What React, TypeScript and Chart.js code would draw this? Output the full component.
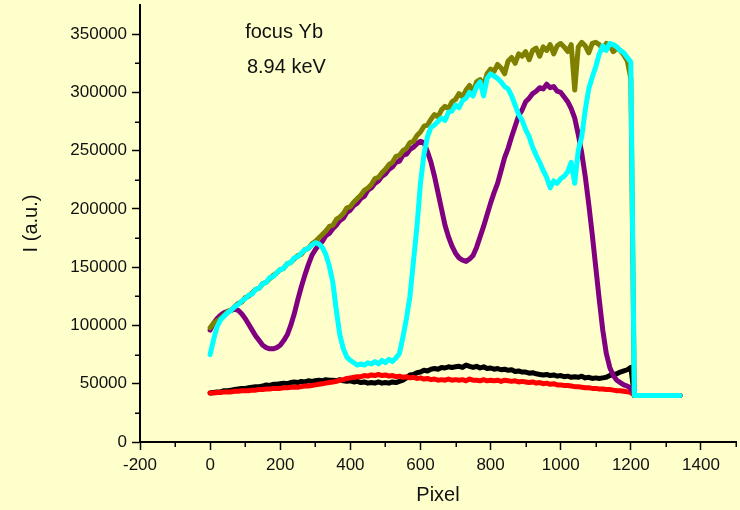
import React, { useEffect, useRef } from "react";
import { Chart, registerables } from "chart.js";

Chart.register(...registerables);

const pixels = [
  0, 10, 20, 30, 40, 50, 60, 70, 80, 90,
  100, 110, 120, 130, 140, 150, 160, 170, 180, 190,
  200, 210, 220, 230, 240, 250, 260, 270, 280, 290,
  300, 310, 320, 330, 340, 350, 360, 370, 380, 390,
  400, 410, 420, 430, 440, 450, 460, 470, 480, 490,
  500, 510, 520, 530, 540, 550, 560, 570, 580, 590,
  600, 610, 620, 630, 640, 650, 660, 670, 680, 690,
  700, 710, 720, 730, 740, 750, 760, 770, 780, 790,
  800, 810, 820, 830, 840, 850, 860, 870, 880, 890,
  900, 910, 920, 930, 940, 950, 960, 970, 980, 990,
  1000, 1010, 1020, 1030, 1040, 1050, 1060, 1070, 1080, 1090,
  1100, 1110, 1120, 1130, 1140, 1150, 1160, 1170, 1180, 1190,
  1200, 1210, 1340,
];

const olive = [
  98000, 102000, 104000, 106000, 109000, 112000, 113000, 116000, 119000, 120000,
  124000, 125000, 128000, 131000, 132000, 136000, 137000, 140000, 143000, 145000,
  148000, 149000, 153000, 154000, 157000, 160000, 161000, 165000, 166000, 170000,
  172000, 175000, 178000, 181000, 185000, 186000, 191000, 193000, 196000, 201000,
  202000, 206000, 209000, 212000, 216000, 218000, 221000, 226000, 227000, 231000,
  234000, 238000, 240000, 245000, 246000, 250000, 252000, 257000, 258000, 263000,
  266000, 271000, 272000, 277000, 281000, 279000, 285000, 288000, 286000, 292000,
  294000, 299000, 296000, 302000, 306000, 300000, 309000, 311000, 306000, 316000,
  320000, 318000, 324000, 321000, 316000, 327000, 330000, 325000, 333000, 331000,
  335000, 328000, 336000, 338000, 331000, 339000, 336000, 341000, 333000, 340000,
  342000, 339000, 335000, 341000, 302000, 339000, 343000, 340000, 334000, 342000,
  343000, 341000, 337000, 342000, 340000, 335000, 338000, 336000, 332000, 327000,
  312000, 40000, 40000,
];

const purple = [
  96000, 102000, 106000, 109000, 111000, 112000, 113000, 114000, 113000, 110000,
  106000, 101000, 96000, 91000, 87000, 83000, 81000, 80000, 80000, 81000,
  83000, 87000, 92000, 100000, 110000, 122000, 133000, 143000, 152000, 160000,
  165000, 169000, 172000, 177000, 179000, 183000, 186000, 190000, 192000, 197000,
  199000, 203000, 205000, 209000, 211000, 216000, 218000, 222000, 224000, 228000,
  230000, 234000, 236000, 240000, 241000, 246000, 247000, 251000, 253000, 256000,
  258000, 257000, 249000, 240000, 228000, 214000, 200000, 186000, 176000, 168000,
  162000, 158000, 156000, 155000, 157000, 160000, 167000, 176000, 185000, 195000,
  205000, 214000, 222000, 233000, 244000, 252000, 262000, 271000, 280000, 285000,
  292000, 295000, 299000, 301000, 304000, 303000, 307000, 304000, 305000, 301000,
  300000, 296000, 292000, 286000, 278000, 264000, 248000, 228000, 204000, 178000,
  150000, 122000, 96000, 76000, 64000, 57000, 53000, 51000, 49000, 48000,
  46000, 40000, 40000,
];

const cyan = [
  75000, 88000, 99000, 105000, 108000, 111000, 113000, 116000, 118000, 121000,
  123000, 126000, 127000, 131000, 132000, 136000, 137000, 141000, 142000, 145000,
  148000, 149000, 153000, 154000, 158000, 159000, 162000, 165000, 166000, 169000,
  171000, 170000, 167000, 161000, 151000, 137000, 113000, 92000, 80000, 73000,
  70000, 68000, 66000, 67000, 66000, 68000, 67000, 69000, 67000, 70000,
  68000, 71000, 69000, 72000, 76000, 90000, 106000, 125000, 155000, 185000,
  222000, 247000, 262000, 270000, 272000, 275000, 278000, 276000, 283000, 284000,
  289000, 287000, 293000, 295000, 300000, 297000, 305000, 309000, 297000, 312000,
  316000, 314000, 312000, 309000, 305000, 303000, 297000, 289000, 281000, 276000,
  268000, 262000, 253000, 246000, 240000, 233000, 227000, 218000, 224000, 222000,
  226000, 228000, 232000, 240000, 222000, 250000, 262000, 285000, 303000, 313000,
  322000, 333000, 340000, 336000, 342000, 341000, 339000, 336000, 334000, 330000,
  326000, 40000, 40000,
];

const black = [
  42000, 42500, 43000, 43000, 44000, 44000, 44500, 45000, 45500, 46000,
  46000, 46500, 47000, 47500, 47500, 48000, 49000, 48500, 49500, 49500,
  50000, 50500, 50000, 51000, 51500, 51000, 52000, 51500, 52500, 52000,
  52500, 53000, 52500, 53500, 53000, 53000, 52500, 53500, 52500, 52000,
  52500, 51500, 52000, 51000, 51500, 50500, 51000, 50500, 51500, 50500,
  51000, 50500, 51500, 51000, 52000, 53000, 55000, 57500, 58000, 59500,
  60000, 61500, 61000, 62500, 63000, 62500, 64000, 63500, 64500, 64000,
  64500, 65000, 64000, 66000, 65000, 64000, 65000, 63500, 64500, 63000,
  63500, 62500, 63000, 62000, 62500, 61500, 62000, 60500, 61000, 60000,
  60000, 59000, 59500, 58500, 58000, 57500, 58000, 57000, 57500, 56500,
  57000, 56000, 56500, 55500, 56000, 55500, 56500, 55000, 55500, 54500,
  55000, 54500, 55000, 55500, 57000, 58000, 58500, 60000, 61000, 62000,
  64000, 40000, 40000,
];

const red = [
  42000, 42000, 42500, 42500, 43000, 43000, 43000, 43500, 43500, 44000,
  44000, 44000, 44500, 44500, 45000, 45000, 45500, 45500, 46000, 46000,
  46000, 46500, 46500, 47000, 47000, 47000, 47500, 48000, 48000, 48500,
  49000, 49500, 50000, 50500, 51000, 51500, 52000, 53000, 53500, 54500,
  55000, 55500, 56000, 56000, 57000, 56500, 57500, 57000, 58000, 57000,
  57500, 56500, 57000, 56000, 56500, 55500, 56000, 55000, 55500, 54500,
  55000, 54000, 54500, 53500, 54000, 53000, 53500, 53000, 54000, 53000,
  53500, 53000, 53500, 52500, 54000, 53000, 53000, 52500, 53500, 52500,
  53000, 52500, 53000, 52000, 53000, 52500, 52000, 52500, 51500, 52000,
  51500, 51000, 51500, 50500, 51000, 50000, 50500, 49500, 50000, 49000,
  49000, 48500, 48500, 48000, 47500, 47500, 47000, 46500, 46500, 46000,
  46000, 45500, 45500, 45000, 45000, 44500, 44000, 44000, 43500, 43000,
  42500, 40000, 40000,
];

const xTickValues = [-200, 0, 200, 400, 600, 800, 1000, 1200, 1400];
const yTickValues = [0, 50000, 100000, 150000, 200000, 250000, 300000, 350000];
const xMinorValues = [-100, 100, 300, 500, 700, 900, 1100, 1300, 1500];
const yMinorValues = [25000, 75000, 125000, 175000, 225000, 275000, 325000];

const noteLines = ["focus Yb", "8.94 keV"];
const xLabel = "Pixel";
const yLabel = "I (a.u.)";

const FONT = "'Liberation Sans', Arial, Helvetica, sans-serif";
const BG = "#FFFFCC";

export default function App() {
  const ref = useRef<HTMLCanvasElement>(null);

  useEffect(() => {
    const canvas = ref.current;
    if (!canvas) return;

    const mk = (label: string, data: number[], color: string) => ({
      label,
      data: pixels.map((x, i) => ({ x, y: data[i] })),
      borderColor: color,
      backgroundColor: color,
      borderWidth: 5,
      pointRadius: 0,
      tension: 0,
      fill: false,
      borderJoinStyle: "round" as const,
      borderCapStyle: "round" as const,
    });

    const bgPlugin = {
      id: "bgPlugin",
      beforeDraw(chart: any) {
        const c = chart.ctx;
        c.save();
        c.fillStyle = BG;
        c.fillRect(0, 0, chart.width, chart.height);
        c.restore();
      },
    };

    const extras = {
      id: "extras",
      afterDraw(chart: any) {
        const c = chart.ctx;
        const xs = chart.scales.x;
        const ys = chart.scales.y;
        const area = chart.chartArea;
        c.save();
        c.strokeStyle = "#000";
        c.lineWidth = 1.5;
        xMinorValues.forEach((v) => {
          const px = Math.round(xs.getPixelForValue(v)) + 0.25;
          c.beginPath();
          c.moveTo(px, area.bottom);
          c.lineTo(px, area.bottom + 5);
          c.stroke();
        });
        yMinorValues.forEach((v) => {
          const py = Math.round(ys.getPixelForValue(v)) + 0.25;
          c.beginPath();
          c.moveTo(area.left, py);
          c.lineTo(area.left - 5, py);
          c.stroke();
        });
        c.fillStyle = "#111";
        c.font = `20px ${FONT}`;
        c.textAlign = "left";
        c.textBaseline = "middle";
        c.fillText(noteLines[0], xs.getPixelForValue(100), ys.getPixelForValue(351000));
        c.fillText(noteLines[1], xs.getPixelForValue(105), ys.getPixelForValue(321000));
        c.restore();
      },
    };

    const chart = new Chart(canvas, {
      type: "line",
      data: {
        datasets: [
          mk("cyan", cyan, "#00FFFF"),
          mk("olive", olive, "#808000"),
          mk("purple", purple, "#800080"),
          mk("red", red, "#FF0000"),
          mk("black", black, "#000000"),
        ],
      },
      options: {
        animation: false,
        responsive: false,
        maintainAspectRatio: false,
        layout: { padding: { top: 5, right: 4, left: 0, bottom: 0 } },
        plugins: {
          legend: { display: false },
          tooltip: { enabled: false },
        },
        scales: {
          x: {
            type: "linear",
            min: -200,
            max: 1500,
            afterBuildTicks: (s: any) => {
              s.ticks = xTickValues.map((v) => ({ value: v }));
            },
            afterFit: (s: any) => {
              s.height = 68;
              s.paddingLeft = 0;
              s.paddingRight = 0;
            },
            ticks: {
              autoSkip: false,
              maxRotation: 0,
              color: "#111",
              padding: 5,
              font: { family: FONT, size: 17 },
              callback: (v: any) => String(v),
            },
            grid: {
              drawOnChartArea: false,
              drawTicks: true,
              tickLength: 8,
              tickColor: "#000",
              tickWidth: 1.5,
            },
            border: { display: true, color: "#000", width: 2 },
            title: {
              display: true,
              text: xLabel,
              color: "#111",
              font: { family: FONT, size: 20 },
              padding: { top: 0, bottom: 3 },
            },
          },
          y: {
            type: "linear",
            min: 0,
            max: 375000,
            afterBuildTicks: (s: any) => {
              s.ticks = yTickValues.map((v) => ({ value: v }));
            },
            afterFit: (s: any) => {
              s.width = 140;
              s.paddingTop = 0;
              s.paddingBottom = 0;
            },
            ticks: {
              autoSkip: false,
              color: "#111",
              padding: 5,
              font: { family: FONT, size: 17 },
              callback: (v: any) => String(v),
            },
            grid: {
              drawOnChartArea: false,
              drawTicks: true,
              tickLength: 8,
              tickColor: "#000",
              tickWidth: 1.5,
            },
            border: { display: true, color: "#000", width: 2 },
            title: {
              display: true,
              text: yLabel,
              color: "#111",
              font: { family: FONT, size: 20 },
              padding: { top: 19, bottom: 0 },
            },
          },
        },
      },
      plugins: [bgPlugin, extras],
    } as any);

    return () => chart.destroy();
  }, []);

  return (
    <div
      style={{
        position: "fixed",
        left: 0,
        top: 0,
        width: 740,
        height: 510,
        background: BG,
      }}
    >
      <canvas ref={ref} width={740} height={510} style={{ display: "block" }} />
    </div>
  );
}
